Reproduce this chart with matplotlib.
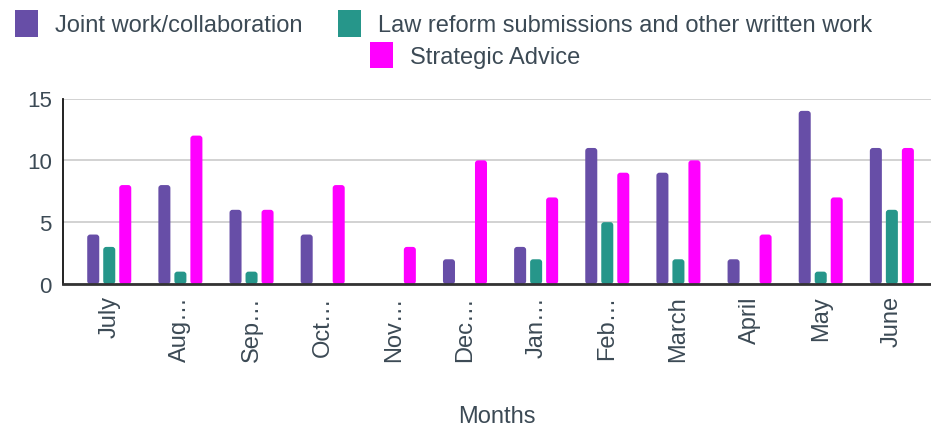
import numpy as np
import matplotlib.pyplot as plt
from matplotlib.patches import Patch, FancyBboxPatch

plt.rcParams['font.family'] = ['Liberation Sans', 'DejaVu Sans']

# ===== data =====
months = ['July', 'Aug…', 'Sep…', 'Oct…', 'Nov…', 'Dec…',
          'Jan…', 'Feb…', 'March', 'April', 'May', 'June']
joint_work = [4, 8, 6, 4, 0, 2, 3, 11, 9, 2, 14, 11]
law_reform = [3, 1, 1, 0, 0, 0, 2, 5, 2, 0, 1, 6]
strategic_advice = [8, 12, 6, 8, 3, 10, 7, 9, 10, 4, 7, 11]

series_names = ['Joint work/collaboration',
                'Law reform submissions and other written work',
                'Strategic Advice']
colors = ['#674ea7', '#26968a', '#ff00ff']
text_col = '#3c4a55'

fig = plt.figure(figsize=(9.31, 4.27), dpi=100)
ax = fig.add_axes([63 / 931, 1 - 285 / 427, 1 - 63 / 931, (285 - 99.5) / 427])

x = np.arange(len(months))
w = 0.169
step = 0.225
# px per data unit, for rounded bar corners
px_x = 71.2
px_y = 185.5 / 15
for k, vals in enumerate([joint_work, law_reform, strategic_advice]):
    bars = ax.bar(x + (k - 1) * step, vals, width=w, color=colors[k], zorder=3)
    for r in bars:
        r.set_visible(False)
        if r.get_height() <= 0:
            continue
        ax.add_patch(FancyBboxPatch((r.get_x(), r.get_y()), r.get_width(), r.get_height(),
                                    boxstyle='round,pad=0,rounding_size=%f' % (3 / px_x),
                                    mutation_aspect=px_x / px_y,
                                    facecolor=colors[k], edgecolor='none', zorder=3))

ax.set_xlim(-0.65, 11.55)
ax.set_ylim(0, 15)
ax.set_yticks([0, 5, 10, 15])
ax.yaxis.grid(True, color='#cfcfcf', linewidth=1.3, zorder=0)
ax.set_xticks(x)
ax.set_xticklabels(months, rotation=90, fontsize=17, color=text_col)
ax.tick_params(axis='y', labelsize=16, colors=text_col, length=0, pad=8)
ax.tick_params(axis='x', length=0, pad=8)
for s in ['top', 'right']:
    ax.spines[s].set_visible(False)
ax.spines['left'].set_color('#111111')
ax.spines['left'].set_linewidth(1.3)
ax.spines['bottom'].set_color('#333333')
ax.spines['bottom'].set_linewidth(2)
ax.spines['bottom'].set_zorder(4)
ax.set_xlabel('Months', fontsize=17, color=text_col, labelpad=32)

# legend: two entries on first row, one centred below
handles = [Patch(facecolor=c, edgecolor='none') for c in colors]
leg_kw = dict(frameon=False, fontsize=17, handlelength=1.0, handleheight=1.35,
              handletextpad=0.72, labelcolor=text_col, borderpad=0, borderaxespad=0)
fig.legend(handles[:2], series_names[:2], ncol=2, loc='center',
           bbox_to_anchor=(443.5 / 931, 1 - 24.5 / 427), columnspacing=1.48, **leg_kw)
fig.legend(handles[2:], series_names[2:], loc='center',
           bbox_to_anchor=(475 / 931, 1 - 56 / 427), **leg_kw)

plt.savefig('out.png', dpi=100)
